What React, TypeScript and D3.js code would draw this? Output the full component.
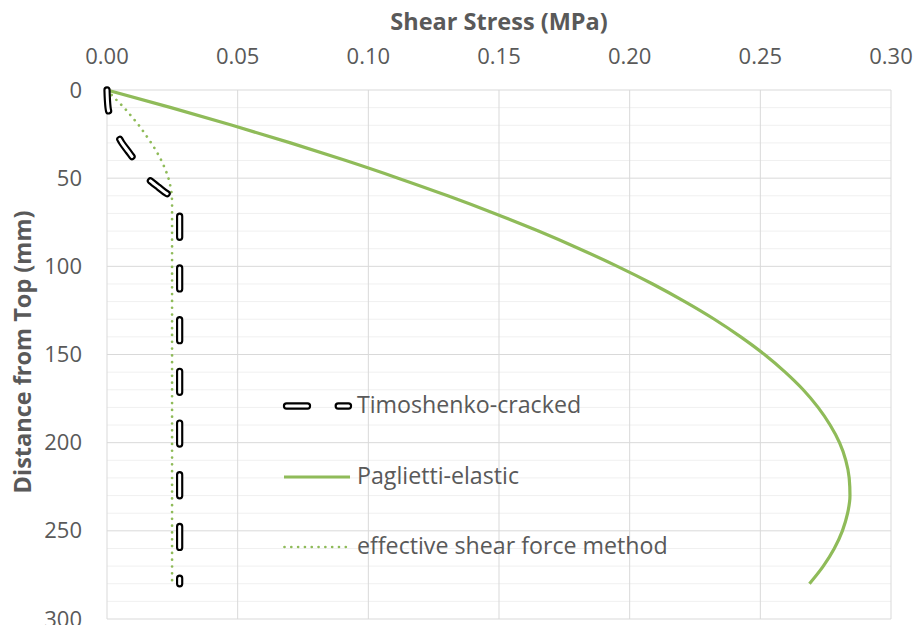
import React from "react";
import * as d3 from "d3";

const xTicks = [0, 0.05, 0.1, 0.15, 0.2, 0.25, 0.3];
const yTicks = [0, 50, 100, 150, 200, 250, 300];
const yMinor = [10, 20, 30, 40, 60, 70, 80, 90, 110, 120, 130, 140, 160, 170, 180, 190, 210, 220, 230, 240, 260, 270, 280, 290];

// Timoshenko-cracked
const timoDepth = [0, 10, 15, 20, 25, 30, 35, 40, 45, 50, 55, 60, 62, 100, 150, 200, 250, 280];
const timoStress = [0, 0.0004, 0.0012, 0.0026, 0.0039, 0.0057, 0.0082, 0.0107, 0.0131, 0.0155, 0.0196, 0.0245, 0.0278, 0.0278, 0.0278, 0.0278, 0.0278, 0.0278];

// Paglietti-elastic
const pagDepth = [0, 10, 20, 30, 40, 50, 60, 70, 80, 90, 100, 110, 120, 130, 140, 150, 160, 170, 180, 190, 200, 210, 220, 230, 240, 250, 260, 270, 280];
const pagStress = [0, 0.0245, 0.0479, 0.0702, 0.0914, 0.1114, 0.1304, 0.1483, 0.1651, 0.1807, 0.1953, 0.2088, 0.2211, 0.2324, 0.2425, 0.2516, 0.2595, 0.2664, 0.2721, 0.2767, 0.2803, 0.2827, 0.284, 0.2843, 0.2834, 0.2814, 0.2783, 0.2741, 0.2688];

// effective shear force method
const effDepth = [0, 5, 10, 15, 20, 25, 30, 35, 40, 45, 50, 55, 60, 65, 100, 150, 200, 250, 280];
const effStress = [0, 0.0032, 0.0065, 0.0094, 0.0122, 0.0146, 0.0169, 0.019, 0.0208, 0.0223, 0.0235, 0.0243, 0.0248, 0.0249, 0.0249, 0.0249, 0.0249, 0.0249, 0.0249];

const seriesNames = ["Timoshenko-cracked", "Paglietti-elastic", "effective shear force method"];

const GREEN = "#8fbb59";
const TEXT = "#595959";
const FONT = "'Open Sans', Lato, sans-serif";

export default function App() {
  const x = d3.scaleLinear().domain([0, 0.3]).range([107, 891]);
  const y = d3.scaleLinear().domain([0, 300]).range([90, 619]);

  const line = d3
    .line<[number, number]>()
    .x((p) => x(p[0]))
    .y((p) => y(p[1]))
    .curve(d3.curveMonotoneY);

  const timo = line(timoDepth.map((d, i) => [timoStress[i], d] as [number, number])) || "";
  const pag = line(pagDepth.map((d, i) => [pagStress[i], d] as [number, number])) || "";
  const eff = line(effDepth.map((d, i) => [effStress[i], d] as [number, number])) || "";

  const legendY = [406, 477, 547];
  const legendTextY = [413, 484, 554];

  return (
    <svg
      width={921}
      height={625}
      style={{ position: "absolute", left: 0, top: 0, background: "#fff" }}
      fontFamily={FONT}
    >
      <rect x={0} y={0} width={921} height={625} fill="#fff" />
      {/* minor horizontal grid */}
      {yMinor.map((d) => (
        <line key={"m" + d} x1={x(0)} x2={x(0.3)} y1={y(d)} y2={y(d)} stroke="#f0f0f0" strokeWidth={1} />
      ))}
      {/* major horizontal grid */}
      {yTicks.map((d) => (
        <line key={"h" + d} x1={x(0)} x2={x(0.3)} y1={y(d)} y2={y(d)} stroke="#d9d9d9" strokeWidth={1} />
      ))}
      {/* vertical grid */}
      {xTicks.map((v) => (
        <line key={"v" + v} x1={x(v)} x2={x(v)} y1={y(0)} y2={y(300)} stroke="#d9d9d9" strokeWidth={1} />
      ))}

      {/* x tick labels */}
      {xTicks.map((v) => (
        <text key={"xt" + v} x={x(v)} y={64} textAnchor="middle" fontSize={22} fill={TEXT}>
          {d3.format(".2f")(v)}
        </text>
      ))}
      {/* y tick labels */}
      {yTicks.map((d) => (
        <text key={"yt" + d} x={82} y={y(d) + 7.5} textAnchor="end" fontSize={22} fill={TEXT}>
          {d}
        </text>
      ))}

      {/* axis titles */}
      <text x={499} y={30} textAnchor="middle" fontSize={23.5} fontWeight="bold" fill={TEXT}>
        Shear Stress (MPa)
      </text>
      <text
        transform="translate(31,352) rotate(-90)"
        textAnchor="middle"
        fontSize={23.5}
        fontWeight="bold"
        fill={TEXT}
      >
        Distance from Top (mm)
      </text>

      {/* series */}
      <path d={eff} fill="none" stroke={GREEN} strokeWidth={2.7} strokeDasharray="0.01 6.8" strokeLinecap="round" />
      <path d={pag} fill="none" stroke={GREEN} strokeWidth={3.2} />
      <path d={timo} fill="none" stroke="#000" strokeWidth={7.3} strokeDasharray="21 30.7" strokeLinecap="round" />
      <path d={timo} fill="none" stroke="#fff" strokeWidth={3} strokeDasharray="21 30.7" strokeLinecap="round" />

      {/* legend */}
      <g>
        <line x1={286.5} x2={348.5} y1={legendY[0]} y2={legendY[0]} stroke="#000" strokeWidth={7.3} strokeDasharray="21 30.7" strokeLinecap="round" />
        <line x1={286.5} x2={348.5} y1={legendY[0]} y2={legendY[0]} stroke="#fff" strokeWidth={3} strokeDasharray="21 30.7" strokeLinecap="round" />
        <line x1={284} x2={350} y1={legendY[1]} y2={legendY[1]} stroke={GREEN} strokeWidth={3.2} />
        <line x1={284.5} x2={346} y1={legendY[2]} y2={legendY[2]} stroke={GREEN} strokeWidth={2.7} strokeDasharray="0.01 6.8" strokeLinecap="round" />
        {seriesNames.map((n, i) => (
          <text key={n} x={357} y={legendTextY[i]} fontSize={23.2} fill={TEXT}>
            {n}
          </text>
        ))}
      </g>
    </svg>
  );
}
